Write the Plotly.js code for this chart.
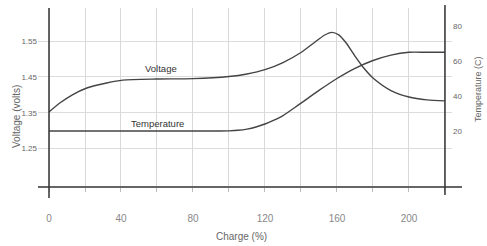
<!DOCTYPE html>
<html>
<head>
<meta charset="utf-8">
<script src="https://cdn.plot.ly/plotly-3.0.1.min.js"></script>
<style>html,body{margin:0;padding:0;background:#fff;}#chart{width:487px;height:246px;}</style>
</head>
<body>
<div id="chart"></div>
<script>
// Data
var voltageCharge = [0, 6, 13, 21, 32, 41, 60, 80, 100, 110, 120, 130, 140, 148, 153, 157, 161, 165, 170, 175, 180, 190, 200, 210, 220];
var voltage       = [1.352, 1.377, 1.400, 1.419, 1.433, 1.441, 1.444, 1.445, 1.451, 1.458, 1.470, 1.490, 1.518, 1.548, 1.566, 1.574, 1.567, 1.545, 1.508, 1.474, 1.447, 1.412, 1.394, 1.386, 1.383];
var tempCharge    = [0, 50, 95, 100, 105, 110, 115, 120, 125, 130, 139, 150, 160, 170, 180, 190, 200, 210, 220];
var temperature   = [20, 20, 20, 20.1, 20.4, 21.1, 22.3, 24, 26.2, 28.8, 35.2, 43.2, 50, 55.8, 60.3, 63.4, 65, 65, 65];
var xTickVals  = [0, 20, 40, 60, 80, 100, 120, 140, 160, 180, 200, 220];
var xTickText  = ['0', '', '40', '', '80', '', '120', '', '160', '', '200', ''];
var vTickVals  = [1.25, 1.35, 1.45, 1.55];
var vTickText  = ['1.25', '1.35', '1.45', '1.55'];
var tTickVals  = [20, 40, 60, 80];
var tTickText  = ['20', '40', '60', '80'];

var xRange = [-6.11, 223.9];
var vRange = [1.143, 1.642];
var tRange = [-12, 90.3];
function px(x) { return (x - xRange[0]) / (xRange[1] - xRange[0]); }

var font = "Liberation Sans, Arial, sans-serif";
var lineColor = '#444';

var traces = [
  {x: voltageCharge, y: voltage, type: 'scatter', mode: 'lines',
   line: {color: lineColor, width: 1.4, shape: 'spline', smoothing: 0.7}, hoverinfo: 'none'},
  {x: tempCharge, y: temperature, type: 'scatter', mode: 'lines', yaxis: 'y2',
   line: {color: lineColor, width: 1.4, shape: 'spline', smoothing: 0.7}, hoverinfo: 'none'}
];

var layout = {
  width: 487, height: 246,
  margin: {l: 38, r: 35, t: 8, b: 59},
  paper_bgcolor: '#fff', plot_bgcolor: '#fff',
  showlegend: false,
  font: {family: font, color: '#666'},
  xaxis: {
    range: xRange, tickvals: xTickVals, ticktext: xTickText,
    showgrid: true, gridcolor: '#d9d9d9', gridwidth: 1,
    zeroline: false, showline: false,
    ticks: 'outside', ticklen: 4, tickcolor: '#bbb',
    ticklabelstandoff: 18,
    tickfont: {size: 10, color: '#888', family: font}
  },
  yaxis: {
    range: vRange, tickvals: vTickVals, ticktext: vTickText,
    showgrid: true, gridcolor: '#dcdcdc', gridwidth: 1,
    zeroline: false, showline: false, ticks: '',
    tickfont: {size: 8, color: '#666', family: font}
  },
  yaxis2: {
    range: tRange, tickvals: tTickVals, ticktext: tTickText,
    overlaying: 'y', side: 'right', showgrid: false, zeroline: false, showline: false, ticks: '',
    tickfont: {size: 8, color: '#666', family: font}
  },
  shapes: [
    {type: 'line', xref: 'paper', yref: 'paper', x0: 0, x1: 1.0242, y0: 0, y1: 0,
     line: {color: '#333', width: 1.5}},
    {type: 'line', xref: 'paper', yref: 'paper', x0: px(0), x1: px(0), y0: -0.0615, y1: 1,
     line: {color: '#333', width: 1.5}},
    {type: 'line', xref: 'paper', yref: 'paper', x0: px(220), x1: px(220), y0: -0.045, y1: 1.017,
     line: {color: '#333', width: 1.5}}
  ],
  annotations: [
    {text: 'Voltage', x: 62, y: 1.472, xref: 'x', yref: 'y', showarrow: false,
     font: {size: 9.5, color: '#333', family: font}},
    {text: 'Temperature', x: 60.5, y: 1.319, xref: 'x', yref: 'y', showarrow: false,
     font: {size: 9.5, color: '#333', family: font}},
    {text: 'Charge (%)', x: 241, y: 236, showarrow: false,
     font: {size: 10, color: '#666', family: font}},
    {text: 'Voltage (volts)', x: 16, y: 117, textangle: -90, showarrow: false,
     font: {size: 10, color: '#666', family: font}},
    {text: 'Temperature (C)', x: 478, y: 89, textangle: -90, showarrow: false,
     font: {size: 9, color: '#666', family: font}}
  ]
};
// convert pixel-placed titles to paper coords
layout.annotations.forEach(function(a, i) {
  if (i >= 2) {
    a.xref = 'paper'; a.yref = 'paper';
    a.x = (a.x - 38) / 414; a.y = (187 - a.y) / 179;
    a.xanchor = 'center'; a.yanchor = 'middle';
  }
});

Plotly.newPlot('chart', traces, layout, {displayModeBar: false, staticPlot: true});
</script>
</body>
</html>
